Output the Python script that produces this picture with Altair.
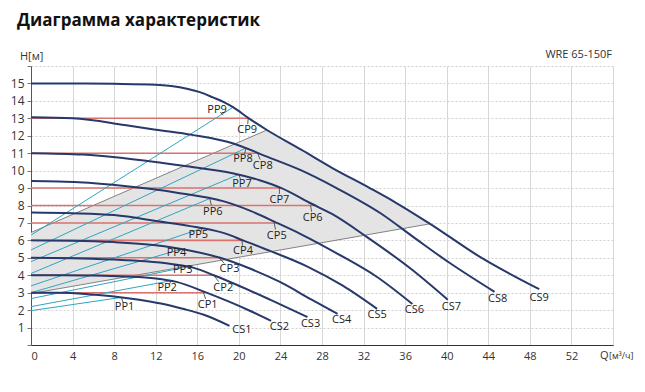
import altair as alt
import pandas as pd

# ---------------- data ----------------
cs_names = ["CS1", "CS2", "CS3", "CS4", "CS5", "CS6", "CS7", "CS8", "CS9"]
cs_q = [
    [0, 2.6, 5.2, 7.8, 10.4, 12.5, 14.6, 16.7, 19.1],
    [0, 3, 6, 9, 12, 14, 16.7, 19, 21, 23.1],
    [0, 4, 8, 11, 13.5, 15.5, 17.7, 20, 23, 26.6],
    [0, 4, 8, 12, 15, 18.2, 21, 24, 27, 29.5],
    [0, 4, 8, 12.2, 16, 18.65, 20.4, 23, 26.6, 30, 33.3],
    [0, 4.6, 9.2, 13.9, 18.65, 21, 23.5, 26, 29.6, 33.3, 36.7],
    [0, 5, 9, 15, 19.4, 22, 24.1, 27, 29, 32.3, 36.7, 40.1],
    [0, 4, 9, 12, 15.5, 19.4, 22.7, 25.9, 29.4, 33.6, 37, 40.3, 44.6],
    [0, 4, 8, 12, 13.5, 15, 16.25, 17.5, 18.65, 19.4, 21, 22.7, 26, 29, 32.6, 35, 38.4,
     43.2, 48.9],
]
cs_h = [
    [3.0, 2.99, 2.93, 2.8, 2.6, 2.38, 2.08, 1.72, 1.1],
    [4.0, 4.0, 3.98, 3.93, 3.82, 3.62, 3.05, 2.5, 1.98, 1.38],
    [5.0, 4.98, 4.9, 4.8, 4.65, 4.45, 3.97, 3.4, 2.6, 1.6],
    [6.0, 5.98, 5.9, 5.72, 5.45, 5.0, 4.4, 3.6, 2.6, 1.78],
    [7.6, 7.56, 7.45, 7.1, 6.75, 6.4, 6.0, 5.4, 4.5, 3.4, 2.07],
    [9.4, 9.33, 9.1, 8.75, 8.22, 7.72, 7.05, 6.35, 5.2, 3.9, 2.35],
    [11.0, 10.92, 10.71, 10.25, 9.85, 9.45, 9.0, 8.1, 7.5, 6.2, 4.3, 2.6],
    [13.06, 13.0, 12.62, 12.35, 12.05, 11.57, 10.8, 10.04, 9.0, 7.57, 6.1, 4.7, 3.05],
    [15.0, 15.0, 14.98, 14.93, 14.85, 14.7, 14.5, 14.2, 13.9, 13.65, 12.98, 12.33,
     11.2, 10.15, 9.0, 8.2, 6.95, 5.05, 3.2],
]
cs_lab_q = [20.3, 23.9, 26.9, 29.9, 33.3, 36.9, 40.45, 44.9, 48.9]
cs_lab_h = [0.86, 1.03, 1.2, 1.44, 1.72, 1.98, 2.2, 2.62, 2.68]

cp_names = ["CP1", "CP2", "CP3", "CP4", "CP5", "CP6", "CP7", "CP8", "CP9"]
cp_head = [3, 4, 5, 6, 7, 8, 9, 11, 13]
cp_end_q = [16.7, 17.7, 18.2, 20.4, 23.5, 27.3, 24.1, 21.9, 21.0]
cp_anchor_q = [16.6, 17.6, 18.1, 20.3, 23.4, 26.9, 23.9, 21.8, 20.9]
cp_lab_q = [17.0, 18.5, 19.1, 20.4, 23.65, 27.1, 23.9, 22.3, 20.8]
cp_lab_h = [2.29, 3.27, 4.36, 5.39, 6.25, 7.29, 8.32, 10.27, 12.33]

pp_names = ["PP1", "PP2", "PP3", "PP4", "PP5", "PP6", "PP7", "PP8", "PP9"]
pp_start_h = [1.97, 2.2, 2.66, 3.0, 3.39, 4.1, 4.78, 5.45, 6.3]
pp_end_q = [8.7, 13.6, 15.6, 14.5, 16.5, 17.2, 20.0, 20.7, 19.4]
pp_end_h = [2.73, 3.7, 4.55, 5.5, 6.7, 8.4, 9.78, 11.3, 13.62]
pp_anchor_q = [8.7, 13.5, 15.5, 14.5, 16.5, 17.2, 20.0, 20.7, 18.5]
pp_anchor_h = [2.73, 3.69, 4.54, 5.5, 6.7, 8.4, 9.78, 11.3, 13.2]
pp_lab_q = [9.0, 13.1, 14.6, 14.0, 16.1, 17.5, 20.3, 20.4, 17.9]
pp_lab_h = [2.18, 3.27, 4.3, 5.28, 6.31, 7.63, 9.24, 10.67, 13.48]

# shaded working area
reg_q = [0, 22.7, 26, 29, 32.6, 35, 38.4]
reg_low = [2.95, 5.32, 5.66, 5.97, 6.35, 6.6, 6.95]
reg_high = [6.45, 12.33, 11.2, 10.15, 9.0, 8.2, 6.95]
bound_upper_q = [0, 22.7]
bound_upper_h = [6.45, 12.33]
bound_lower_q = [0, 38.4]
bound_lower_h = [2.95, 6.95]

x_ticks = list(range(0, 57, 4))
y_ticks = list(range(0, 17))

# ---------------- tables ----------------
rows = []
for n, qs, hs in zip(cs_names, cs_q, cs_h):
    for i, (q, h) in enumerate(zip(qs, hs)):
        rows.append({"name": n, "Q": q, "H": h, "i": i})
cs_df = pd.DataFrame(rows)

rows = []
for n, h, e in zip(cp_names, cp_head, cp_end_q):
    rows.append({"name": n, "Q": 0, "H": h, "i": 0})
    rows.append({"name": n, "Q": e, "H": h, "i": 1})
cp_df = pd.DataFrame(rows)

rows = []
for n, h0, eq, eh in zip(pp_names, pp_start_h, pp_end_q, pp_end_h):
    rows.append({"name": n, "Q": 0, "H": h0, "i": 0})
    rows.append({"name": n, "Q": eq, "H": eh, "i": 1})
pp_df = pd.DataFrame(rows)

bound_rows = []
for i, (q, h) in enumerate(zip(bound_upper_q, bound_upper_h)):
    bound_rows.append({"name": "up", "Q": q, "H": h, "i": i})
for i, (q, h) in enumerate(zip(bound_lower_q, bound_lower_h)):
    bound_rows.append({"name": "low", "Q": q, "H": h, "i": i})
bound_df = pd.DataFrame(bound_rows)

reg_df = pd.DataFrame({"Q": reg_q, "H": reg_low, "hi": reg_high})

labels = []
for n, q, h in zip(cs_names, cs_lab_q, cs_lab_h):
    labels.append({"t": n, "Q": q, "H": h})
for n, q, h in zip(cp_names, cp_lab_q, cp_lab_h):
    labels.append({"t": n, "Q": q, "H": h})
for n, q, h in zip(pp_names, pp_lab_q, pp_lab_h):
    labels.append({"t": n, "Q": q, "H": h})
lab_df = pd.DataFrame(labels)

lead = []
for aq, ah, lq, lh in zip(cp_anchor_q, cp_head, cp_lab_q, cp_lab_h):
    lead.append({"Q": aq, "H": ah, "Q2": aq + (lq - aq) * 0.5, "H2": ah + (lh - ah) * 0.5})
for aq, ah, lq, lh in zip(pp_anchor_q, pp_anchor_h, pp_lab_q, pp_lab_h):
    lead.append({"Q": aq, "H": ah, "Q2": aq + (lq - aq) * 0.5, "H2": ah + (lh - ah) * 0.5})
lead_df = pd.DataFrame(lead)

# ---------------- chart ----------------
FONT = "Open Sans"
xs = alt.Scale(domain=[0, 56], nice=False, zero=False)
ys = alt.Scale(domain=[0, 16], nice=False, zero=False)

x_axis = alt.Axis(values=x_ticks, title=None, grid=True, gridColor="#d6d6d6",
                  gridWidth=1, ticks=False, domainColor="#333333", domainWidth=1.2,
                  labelFont=FONT, labelFontSize=11, labelColor="#333333",
                  labelPadding=5, labelAngle=0, labelOverlap=False,
                  labelExpr="datum.value == 56 ? '' : datum.label")
y_axis = alt.Axis(values=y_ticks, title=None, grid=True, gridColor="#d0d0d0",
                  gridDash=[2, 2], gridWidth=1, ticks=True, tickSize=4,
                  tickColor="#777777", domainColor="#555555", domainWidth=1,
                  labelFont=FONT, labelFontSize=12, labelColor="#333333",
                  labelPadding=3, labelOverlap=False,
                  labelExpr="(datum.value == 0 || datum.value == 16) ? '' : datum.label")


def X(f="Q:Q"):
    return alt.X(f, scale=xs, axis=x_axis)


def Y(f="H:Q"):
    return alt.Y(f, scale=ys, axis=y_axis)


region = alt.Chart(reg_df).mark_area(color="#e4e4e4", opacity=1).encode(
    x=X(), y=Y(), y2="hi:Q",
)

bounds = alt.Chart(bound_df).mark_line(color="#666666", strokeWidth=0.8).encode(
    x=X(), y=Y(), detail="name:N", order="i:Q")

cp_lines = alt.Chart(cp_df).mark_line(color="#d9736c", strokeWidth=1.6).encode(
    x=X(), y=Y(), detail="name:N", order="i:Q")

pp_lines = alt.Chart(pp_df).mark_line(color="#2ea5c2", strokeWidth=1).encode(
    x=X(), y=Y(), detail="name:N", order="i:Q")

cs_lines = alt.Chart(cs_df).mark_line(color="#27386b", strokeWidth=2,
                                      interpolate="monotone").encode(
    x=X(), y=Y(), detail="name:N", order="i:Q")

leaders = alt.Chart(lead_df).mark_rule(color="#333333", strokeWidth=0.8).encode(
    x=X(), y=Y(), x2="Q2:Q", y2="H2:Q")

label_txt = alt.Chart(lab_df).mark_text(font=FONT, fontSize=11, color="#222222",
                                        align="center", baseline="middle").encode(
    x=X(), y=Y(), text="t:N")

one = pd.DataFrame({"a": [0]})
title_t = alt.Chart(one).mark_text(text="Диаграмма характеристик", font=FONT,
                                   fontSize=17, fontWeight="bold", color="#111111",
                                   align="left", baseline="middle", x=-14, y=-45)
h_t = alt.Chart(one).mark_text(text="H[м]", font=FONT, fontSize=11, color="#333333",
                               align="left", baseline="middle", x=-11, y=-9)
model_t = alt.Chart(one).mark_text(text="WRE 65-150F", font=FONT, fontSize=11,
                                   color="#333333", align="right", baseline="middle",
                                   x=581, y=-11)
q_t = alt.Chart(one).mark_text(text="Q", font=FONT, fontSize=11, color="#333333",
                               align="left", baseline="middle", x=569, y=11 + 279)
q_u = alt.Chart(one).mark_text(text="[м³/ч]", font=FONT, fontSize=9, color="#333333",
                               align="left", baseline="middle", x=578, y=11 + 279)

chart = alt.layer(
    region, bounds, cp_lines, pp_lines, cs_lines, leaders, label_txt,
    title_t, h_t, model_t, q_t, q_u,
).properties(
    width=582, height=279,
    padding={"left": 23, "top": 58, "right": 24, "bottom": 39},
    autosize=alt.AutoSizeParams(type="none"),
    background="#ffffff",
).configure_view(strokeWidth=0)

chart.save("out.html", embed_options={"renderer": "svg", "actions": False})
